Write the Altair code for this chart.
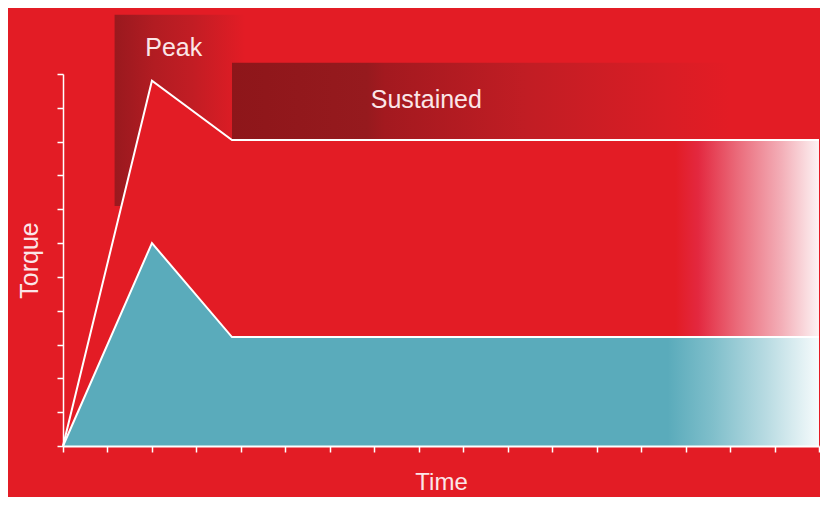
import altair as alt
import pandas as pd

# ---- data ----
time_points = [0, 2.0, 3.8, 17]
peak_torque = [0, 10.8, 9.05, 9.05]        # outer (peak / sustained) torque curve
cont_torque = [0, 6.0, 3.22, 3.22]         # continuous torque curve (teal)

box_names = ["Peak", "Sustained"]
box_x = [1.16, 3.8]
box_x2 = [4.1, 17]
box_y = [7.1, 9.05]
box_y2 = [12.75, 11.33]
label_x = [2.49, 8.17]
label_y = [11.78, 10.24]

x_ticks = list(range(0, 18))
y_ticks = list(range(0, 12))

BG = "#e31c25"
TXT = "#fbe6e8"

outer_df = pd.DataFrame({"Time": time_points, "Torque": peak_torque})
cont_df = pd.DataFrame({"Time": time_points, "Torque": cont_torque})
peak_df = pd.DataFrame({"Time": [box_x[0]], "x2": [box_x2[0]], "Torque": [box_y[0]], "y2": [box_y2[0]]})
sus_df = pd.DataFrame({"Time": [box_x[1]], "x2": [box_x2[1]], "Torque": [box_y[1]], "y2": [box_y2[1]]})
lab_df = pd.DataFrame({"name": box_names, "Time": label_x, "Torque": label_y})

xscale = alt.Scale(domain=[0, 17], nice=False, zero=False)
yscale = alt.Scale(domain=[0, 11], nice=False, zero=False)

xaxis = alt.Axis(values=x_ticks, labels=False, grid=False, domainColor="white", domainWidth=2,
                 tickColor="white", tickWidth=1.5, tickSize=6, title="Time",
                 titleColor=TXT, titleFont="Liberation Sans", titleFontSize=24,
                 titleFontWeight="normal", titleBaseline="alphabetic", titleY=43, zindex=1)
yaxis = alt.Axis(values=y_ticks, labels=False, grid=False, domainColor="white", domainWidth=1.5,
                 tickColor="white", tickWidth=1.5, tickSize=6, title="Torque",
                 titleColor=TXT, titleFont="Liberation Sans", titleFontSize=25,
                 titleFontWeight="normal", titleBaseline="alphabetic", titleX=-26, zindex=1)

X = alt.X("Time:Q", scale=xscale, axis=xaxis)
Y = alt.Y("Torque:Q", scale=yscale, axis=yaxis)


def grad(stops):
    return alt.LinearGradient(gradient="linear",
                              stops=[alt.GradientStop(offset=o, color=c) for o, c in stops],
                              x1=0, x2=1, y1=0, y2=0)


peak_rect = alt.Chart(peak_df).mark_rect(
    fill=grad([(0, "#9a191e"), (0.12, "#a31a20"), (0.3, "#b21c22"), (0.6, "#c21d24"), (1, BG)])
).encode(x=X, x2="x2:Q", y=Y, y2="y2:Q")

sus_rect = alt.Chart(sus_df).mark_rect(
    fill=grad([(0, "#8e161a"), (0.23, "#961a1e"), (0.26, "#a3191f"), (0.5, "#c11d24"),
               (0.75, "#da1d25"), (0.85, BG), (1, BG)])
).encode(x=X, x2="x2:Q", y=Y, y2="y2:Q")

outer_area = alt.Chart(outer_df).mark_area(
    color=grad([(0, BG), (0.81, BG), (0.84, "#e3283f"), (0.89, "#ea6878"),
                (0.95, "#f3aeb7"), (1, "#fdf2f3")])
).encode(x=X, y=Y)

outer_line = alt.Chart(outer_df).mark_line(color="white", strokeWidth=2).encode(x=X, y=Y)

cont_area = alt.Chart(cont_df).mark_area(
    color=grad([(0, "#5aabbb"), (0.80, "#5aabbb"), (0.86, "#80bfcb"),
                (0.93, "#b8dbe2"), (1, "#f6fbfc")])
).encode(x=X, y=Y)

cont_line = alt.Chart(cont_df).mark_line(color="white", strokeWidth=2).encode(x=X, y=Y)

labels = alt.Chart(lab_df).mark_text(
    color=TXT, font="Liberation Sans", fontSize=25, align="center", baseline="middle"
).encode(x=X, y=Y, text="name:N")

chart = alt.layer(peak_rect, sus_rect, outer_area, outer_line, cont_area, cont_line, labels).properties(
    width=756, height=372,
    padding={"left": 55, "top": 66, "right": 1, "bottom": 51},
    autosize="none",
).configure(background=BG).configure_view(stroke=None)

chart.save("out.html", embed_options={"renderer": "svg", "actions": False})
